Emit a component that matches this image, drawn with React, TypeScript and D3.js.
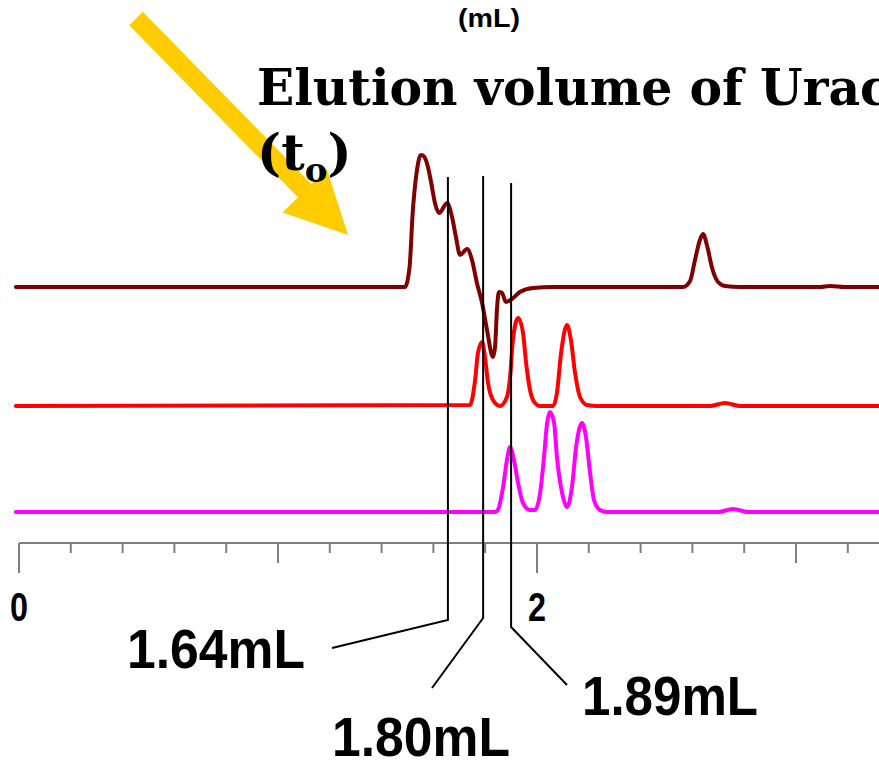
import React from "react";
import * as d3 from "d3";

// ---- data (x in mL, y = detector signal above each trace's baseline) ----
const uracilTrace: [number, number][] = [
  [-0.012, 0], [0.313, 0], [0.892, 0], [1.49, 0], [1.508, 20], [1.52, 74], [1.535, 114],
  [1.552, 132], [1.562, 131], [1.577, 122], [1.591, 105], [1.606, 84], [1.622, 74], [1.653, 84],
  [1.672, 70], [1.687, 50], [1.703, 32], [1.73, 38], [1.749, 27], [1.768, 4],
  [1.788, -16], [1.807, -43], [1.83, -70], [1.838, -60], [1.846, -20], [1.853, -5],
  [1.865, -6], [1.88, -15], [1.903, -12], [1.934, -5], [1.985, -1], [2.062, 0],
  [2.564, 0], [2.591, 6], [2.61, 27], [2.629, 47], [2.641, 53], [2.656, 42],
  [2.676, 19], [2.699, 5], [2.726, 1], [2.784, 0], [3.093, 0], [3.131, 1],
  [3.189, 0], [3.324, 0],
];
const redTrace: [number, number][] = [
  [-0.012, 0], [1.741, 1], [1.761, 26], [1.772, 53], [1.788, 64], [1.799, 49],
  [1.811, 23], [1.83, 6], [1.857, 0], [1.884, 9], [1.896, 29], [1.907, 66],
  [1.927, 88], [1.946, 73], [1.958, 43], [1.973, 16], [1.992, 3], [2.012, 0],
  [2.062, 0], [2.077, 13], [2.093, 53], [2.116, 81], [2.131, 66], [2.147, 33],
  [2.166, 9], [2.193, 1], [2.232, 0], [2.668, 0], [2.726, 3], [2.784, 0], [3.324, 0],
];
const magentaTrace: [number, number][] = [
  [-0.012, 0], [1.838, 0], [1.849, 2], [1.869, 25], [1.884, 52], [1.896, 65],
  [1.911, 52], [1.927, 29], [1.946, 9], [1.973, 2], [1.992, 2], [2.012, 19],
  [2.027, 55], [2.039, 89], [2.05, 100], [2.066, 89], [2.077, 55], [2.097, 19],
  [2.116, 5], [2.135, 25], [2.151, 65], [2.174, 89], [2.189, 75], [2.205, 39],
  [2.22, 12], [2.243, 2], [2.27, 0], [2.699, 0], [2.757, 3], [2.815, 0], [3.324, 0],
];
const traceBaselines = [256, 137, 31];
const traceColors = ["#800000", "#ff0000", "#ff00ff"];

const tickValues = d3.range(0, 3.21, 0.2).map((v) => +v.toFixed(1));
const tickLabels: Record<string, string> = { "0": "0", "2": "2" };

const markerValues = [1.656, 1.792, 1.9];
const markerTops = [366, 367, 360];
const markerBends = [-77, -75, -84];
const markerLabels = ["1.64mL", "1.80mL", "1.89mL"];

export default function App() {
  const W = 879, H = 760;
  const x = d3.scaleLinear().domain([0, 2]).range([19, 537]);
  const y = d3.scaleLinear().domain([0, 400]).range([543, 143]);
  const traces = [uracilTrace, redTrace, magentaTrace];

  const line = (base: number) =>
    d3.line<[number, number]>()
      .x((d) => x(d[0]))
      .y((d) => y(base + d[1]))
      .curve(d3.curveMonotoneX);

  // arrow polygon
  const a0 = [136, 18.5], a1 = [348, 235];
  const dx = a1[0] - a0[0], dy = a1[1] - a0[1];
  const L = Math.hypot(dx, dy);
  const ux = dx / L, uy = dy / L, nx = -uy, ny = ux;
  const sw = 9.5, hw = 31, hl = 62;
  const pt = (along: number, perp: number) =>
    `${a0[0] + ux * along + nx * perp},${a0[1] + uy * along + ny * perp}`;
  const arrowPts = [
    pt(0, -sw), pt(L - hl, -sw), pt(L - hl, -hw), pt(L, 0),
    pt(L - hl, hw), pt(L - hl, sw), pt(0, sw),
  ].join(" ");

  const leaderEnds: [number, number][] = [[332, 648], [432, 688], [567, 685]];
  const labelBoxes = [
    { x: 127, y: 668, w: 178 },
    { x: 332, y: 756, w: 178 },
    { x: 582, y: 715, w: 176 },
  ];

  const sans = "'Liberation Sans', Arial, sans-serif";
  const serif = "'DejaVu Serif', serif";

  return (
    <svg width={W} height={H} style={{ position: "absolute", left: 0, top: 0, background: "#fff" }}>
      <rect width={W} height={H} fill="#fff" />
      {/* axis */}
      <line x1={x(0)} x2={W} y1={543} y2={543} stroke="#7f7f7f" strokeWidth={2} />
      {tickValues.map((t) => {
        const len = t === 0 || t === 2 ? 30 : t === 1 || t === 3 ? 20 : 10;
        return (
          <line key={t} x1={x(t)} x2={x(t)} y1={543} y2={543 + len} stroke="#7f7f7f" strokeWidth={2} />
        );
      })}
      {tickValues.filter((t) => tickLabels[String(t)]).map((t) => (
        <text key={"l" + t} x={x(t) - 9} y={621} fontFamily={sans} fontWeight="bold" fontSize={41}
          textLength={18} lengthAdjust="spacingAndGlyphs">{tickLabels[String(t)]}</text>
      ))}
      {/* traces */}
      {traces.map((tr, i) => (
        <path key={i} d={line(traceBaselines[i])(tr) || ""} fill="none" stroke={traceColors[i]}
          strokeWidth={4} strokeLinejoin="round" strokeLinecap="round" />
      ))}
      {/* markers */}
      {markerValues.map((m, i) => (
        <polyline key={"m" + i}
          points={`${x(m)},${y(markerTops[i])} ${x(m)},${y(markerBends[i])} ${leaderEnds[i][0]},${leaderEnds[i][1]}`}
          fill="none" stroke="#000" strokeWidth={2} />
      ))}
      {markerLabels.map((s, i) => (
        <text key={"t" + i} x={labelBoxes[i].x} y={labelBoxes[i].y} fontFamily={sans} fontWeight="bold"
          fontSize={56} textLength={labelBoxes[i].w} lengthAdjust="spacingAndGlyphs">{s}</text>
      ))}
      {/* arrow */}
      <polygon points={arrowPts} fill="#ffcc00" />
      {/* title */}
      <text x={489} y={27} textAnchor="middle" fontFamily={sans} fontWeight="bold" fontSize={25}
        textLength={62} lengthAdjust="spacingAndGlyphs">(mL)</text>
      <text x={257} y={105} fontFamily={serif} fontWeight="bold" fontSize={51}
        textLength={670} lengthAdjust="spacingAndGlyphs">Elution volume of Uracil</text>
      <text x={257} y={170} fontFamily={serif} fontWeight="bold" fontSize={51}>
        (t<tspan fontSize={34} dy={12}>o</tspan><tspan dy={-12}>)</tspan>
      </text>
    </svg>
  );
}
